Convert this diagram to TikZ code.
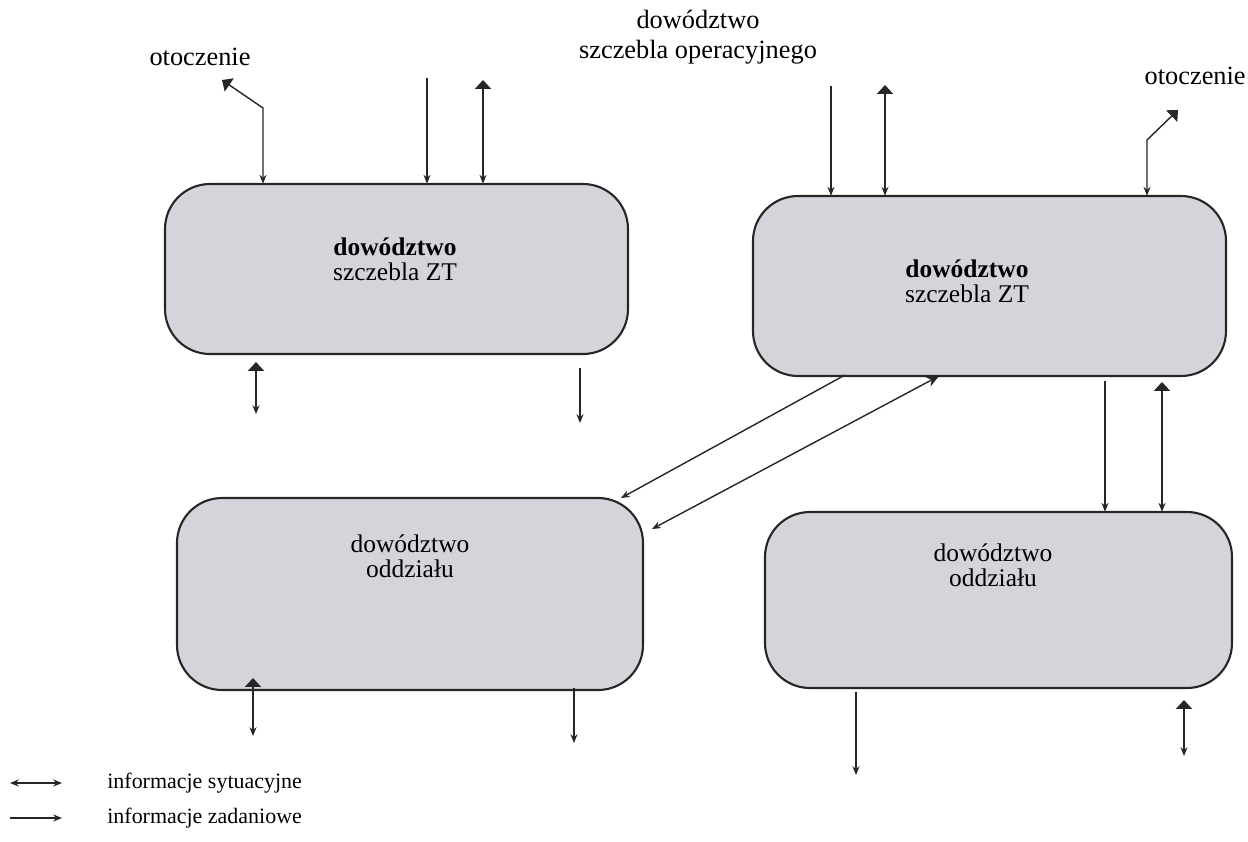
\documentclass[tikz,border=0pt]{standalone}
\usepackage{fontspec}
\setmainfont{Liberation Serif}
\usetikzlibrary{arrows.meta}
\definecolor{boxfill}{rgb}{0.83,0.83,0.86}
\tikzset{
  cmdbox/.style={draw=black!85, line width=1.2pt, fill=boxfill, rounded corners=0.9cm},
  boxtext/.style={align=center, font=\fontsize{14.5}{13}\selectfont, inner sep=0pt},
  lbl/.style={align=center, font=\fontsize{15}{17}\selectfont, inner sep=0pt},
  legtext/.style={anchor=west, font=\fontsize{12.5}{14}\selectfont, inner sep=0pt},
  flow/.style={line width=0.8pt, black!85},
  smalltip/.tip={Stealth[length=5pt,width=4pt]},
  bigtip/.tip={Triangle[length=5pt,width=9pt]},
  task/.style={flow, -smalltip},
  sit/.style={flow, bigtip-smalltip},
  legsit/.style={flow, smalltip-smalltip},
}
\begin{document}
\begin{tikzpicture}[x=0.02cm,y=-0.02cm]
\useasboundingbox (0,0) rectangle (1248,842);

% command posts
\path[cmdbox] (165,184) rectangle (628,354);
\path[cmdbox] (753,196) rectangle (1226,376);
\path[cmdbox] (177,498) rectangle (643,690);
\path[cmdbox] (765,512) rectangle (1232,688);
\coordinate (A) at (396,269);
\coordinate (B) at (989,286);
\coordinate (C) at (410,594);
\coordinate (D) at (998,600);
\node[inner sep=0pt, minimum width=9.26cm, minimum height=3.4cm] (An) at (A) {};
\node[inner sep=0pt, minimum width=9.46cm, minimum height=3.6cm] (Bn) at (B) {};
\node[inner sep=0pt, minimum width=9.32cm, minimum height=3.84cm] (Cn) at (C) {};
\node[inner sep=0pt, minimum width=9.34cm, minimum height=3.52cm] (Dn) at (D) {};

\node[boxtext] (At) at (395,259) {\textbf{dowództwo}\\[1pt]szczebla ZT};
\node[boxtext] (Bt) at (967,281) {\textbf{dowództwo}\\[1pt]szczebla ZT};
\node[boxtext] (Ct) at (410,556) {dowództwo\\[1pt]oddziału};
\node[boxtext] (Dt) at (993,565) {dowództwo\\[1pt]oddziału};

% outer labels
\node[lbl] (env1) at (200,57) {otoczenie};
\node[lbl] (op) at (698,37) {dowództwo\\szczebla operacyjnego};
\node[lbl, anchor=east] (env2) at (1246,76) {otoczenie};

% top-left post
\coordinate (a1) at (263,108);
\coordinate (a1e) at (222,80);
\draw[sit] (a1e) -- (a1) -- (a1 |- An.north);
\coordinate (a2) at (427,78);
\draw[task] (a2) -- (a2 |- An.north);
\coordinate (a3) at (483,80);
\draw[sit] (a3) -- (a3 |- An.north);
\coordinate (a4) at (256,362);
\coordinate (a4e) at (256,414);
\draw[sit] (a4) -- (a4e);
\coordinate (a5) at (580,368);
\coordinate (a5e) at (580,423);
\draw[task] (a5) -- (a5e);

% top-right post
\coordinate (b1) at (831,86);
\draw[task] (b1) -- (b1 |- Bn.north);
\coordinate (b2) at (885,85);
\draw[sit] (b2) -- (b2 |- Bn.north);
\coordinate (b3) at (1147,140);
\coordinate (b3e) at (1178,110);
\draw[sit] (b3e) -- (b3) -- (b3 |- Bn.north);

% between the top-right post and the lower posts
\coordinate (d1s) at (845,375);
\coordinate (d1e) at (621,498);
\draw[task] (d1s) -- (d1e);
\coordinate (d2s) at (652,529);
\coordinate (d2e) at (939,376);
\draw[flow, smalltip-{Stealth[length=7pt,width=6pt]}] (d2s) -- (d2e);
\coordinate (b4) at (1105,381);
\draw[task] (b4) -- (b4 |- Dn.north);
\coordinate (b5) at (1162,382);
\draw[sit] (b5) -- (b5 |- Dn.north);

% lower posts
\coordinate (c1) at (253,678);
\coordinate (c1e) at (253,736);
\draw[sit] (c1) -- (c1e);
\coordinate (c2) at (574,688);
\coordinate (c2e) at (574,743);
\draw[task] (c2) -- (c2e);
\coordinate (e1) at (856,692);
\coordinate (e1e) at (856,775);
\draw[task] (e1) -- (e1e);
\coordinate (e2) at (1184,700);
\coordinate (e2e) at (1184,756);
\draw[sit] (e2) -- (e2e);

% legend
\coordinate (l1s) at (10,783);
\coordinate (l1e) at (62,783);
\draw[legsit] (l1s) -- (l1e);
\node[legtext] (l1t) at (107,783) {informacje sytuacyjne};
\coordinate (l2s) at (10,818);
\coordinate (l2e) at (62,818);
\draw[task] (l2s) -- (l2e);
\node[legtext] (l2t) at (107,818) {informacje zadaniowe};
\end{tikzpicture}
\end{document}
